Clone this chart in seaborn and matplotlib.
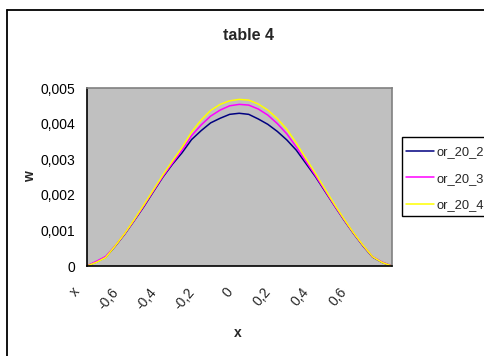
import numpy as np
import pandas as pd
import matplotlib
matplotlib.use("Agg")
import matplotlib.pyplot as plt
from matplotlib.lines import Line2D
from matplotlib.patches import Rectangle
from matplotlib.ticker import FuncFormatter, NullFormatter
from matplotlib.transforms import ScaledTranslation
import seaborn as sns

# x positions (step 0.05 from -0.8 to 0.8)
x_vals = [-0.80, -0.75, -0.70, -0.65, -0.60, -0.55, -0.50, -0.45, -0.40,
          -0.35, -0.30, -0.25, -0.20, -0.15, -0.10, -0.05, 0.00,
          0.05, 0.10, 0.15, 0.20, 0.25, 0.30, 0.35, 0.40,
          0.45, 0.50, 0.55, 0.60, 0.65, 0.70, 0.75, 0.80]

or_20_2 = [0, 0.00011, 0.00025, 0.00056, 0.00090, 0.00128, 0.00167, 0.00209, 0.00250,
           0.00286, 0.00318, 0.00355, 0.00380, 0.00402, 0.00415, 0.00426, 0.00429,
           0.00426, 0.00413, 0.00398, 0.00378, 0.00354, 0.00325, 0.00288, 0.00251,
           0.00210, 0.00169, 0.00129, 0.00091, 0.00056, 0.00025, 0.00010, 0]

or_20_3 = [0, 0.00013, 0.00027, 0.00057, 0.00091, 0.00129, 0.00169, 0.00211, 0.00252,
           0.00289, 0.00325, 0.00366, 0.00396, 0.00421, 0.00438, 0.00450, 0.00454,
           0.00452, 0.00441, 0.00424, 0.00400, 0.00371, 0.00334, 0.00294, 0.00254,
           0.00212, 0.00170, 0.00130, 0.00092, 0.00057, 0.00026, 0.00011, 0]

or_20_4 = [0, 0.00010, 0.00024, 0.00057, 0.00092, 0.00131, 0.00172, 0.00214, 0.00256,
           0.00295, 0.00333, 0.00376, 0.00410, 0.00437, 0.00454, 0.00464, 0.00468,
           0.00466, 0.00455, 0.00438, 0.00414, 0.00384, 0.00345, 0.00302, 0.00260,
           0.00216, 0.00173, 0.00132, 0.00093, 0.00058, 0.00026, 0.00010, 0]

series_names = ["or_20_2", "or_20_3", "or_20_4"]
series_colors = ["#000080", "#FF00FF", "#FFFF00"]

x_ticks = [-0.8, -0.7, -0.6, -0.5, -0.4, -0.3, -0.2, -0.1, 0.0,
           0.1, 0.2, 0.3, 0.4, 0.5, 0.6, 0.7, 0.8]
x_tick_labels = ["x", "", "-0,6", "", "-0,4", "", "-0,2", "", "0",
                 "", "0,2", "", "0,4", "", "0,6", "", ""]
y_ticks = [0, 0.001, 0.002, 0.003, 0.004, 0.005]

df = pd.DataFrame({
    "x": x_vals * 3,
    "w": or_20_2 + or_20_3 + or_20_4,
    "series": sum([[n] * len(x_vals) for n in series_names], []),
})

sns.set_style("white")
plt.rcParams["font.family"] = ["Liberation Sans", "DejaVu Sans"]

W, H = 485, 356
fig = plt.figure(figsize=(W / 100, H / 100), dpi=100, facecolor="white")
ax = fig.add_axes([86.7 / W, 1 - 266 / H, 305 / W, 178 / H])
ax.set_facecolor("#C0C0C0")

sns.lineplot(data=df, x="x", y="w", hue="series", palette=series_colors,
             hue_order=series_names, linewidth=1.1, ax=ax, legend=False,
             estimator=None, sort=False)

ax.set_xlim(-0.8, 0.8)
ax.set_ylim(0, 0.005)
ax.set_xticks(x_ticks)
ax.xaxis.set_major_formatter(NullFormatter())
ax.set_yticks(y_ticks)
ax.yaxis.set_major_formatter(FuncFormatter(lambda v, p: ("%g" % v).replace(".", ",")))
ax.tick_params(axis="y", direction="out", length=4, width=1, pad=4, labelsize=10,
               colors="black")
ax.tick_params(axis="x", direction="out", length=4.5, width=1, colors="black")

# rotated category labels hanging below the axis, offset left of each tick
label_offset = ScaledTranslation(-9 / 100, -23.5 / 100, fig.dpi_scale_trans)
for xv, lab in zip(x_ticks, x_tick_labels):
    if lab:
        ax.text(xv, 0, lab, transform=ax.get_xaxis_transform() + label_offset,
                rotation=50, rotation_mode="anchor", ha="right", va="center",
                fontsize=10, clip_on=False)

for s in ["left", "bottom"]:
    ax.spines[s].set_color("black")
    ax.spines[s].set_linewidth(1.2)
for s in ["top", "right"]:
    ax.spines[s].set_color("#808080")
    ax.spines[s].set_linewidth(1.2)

ax.set_xlabel("x", fontsize=10, fontweight="bold")
ax.xaxis.set_label_coords((237.7 - 86.7) / 305, (266 - 333) / 178)
ax.xaxis.label.set_va("center")
ax.set_ylabel("w", fontsize=10, fontweight="bold")
ax.yaxis.set_label_coords((30 - 86.7) / 305, 0.5)
ax.yaxis.label.set_va("center")

fig.text(249 / W, 1 - 36 / H, "table 4", ha="center", va="center",
         fontsize=11.5, fontweight="bold")

# legend box frame, running past the right edge
fig.add_artist(Rectangle((402 / W, 1 - 216 / H), 100 / W, (216 - 136.7) / H,
                         transform=fig.transFigure, facecolor="white",
                         edgecolor="black", lw=1.0, zorder=2))
handles = [Line2D([], [], color=c, lw=1.1) for c in series_colors]
leg = fig.legend(handles, series_names, loc="upper left",
                 bbox_to_anchor=(406.5 / W, 1 - 146.5 / H),
                 bbox_transform=fig.transFigure, fontsize=9.3,
                 frameon=False, handlelength=2.1, handletextpad=0.22,
                 labelspacing=1.1, borderpad=0, borderaxespad=0)
leg.set_zorder(3)

# outer chart frame (left and top edges visible)
fig.add_artist(Line2D([7.3 / W, 7.3 / W], [0, 1 - 10 / H], transform=fig.transFigure,
                      color="black", lw=1.3))
fig.add_artist(Line2D([7.3 / W, 1], [1 - 10 / H, 1 - 10 / H], transform=fig.transFigure,
                      color="black", lw=1.3))

fig.savefig("out.png", dpi=100, facecolor="white")
